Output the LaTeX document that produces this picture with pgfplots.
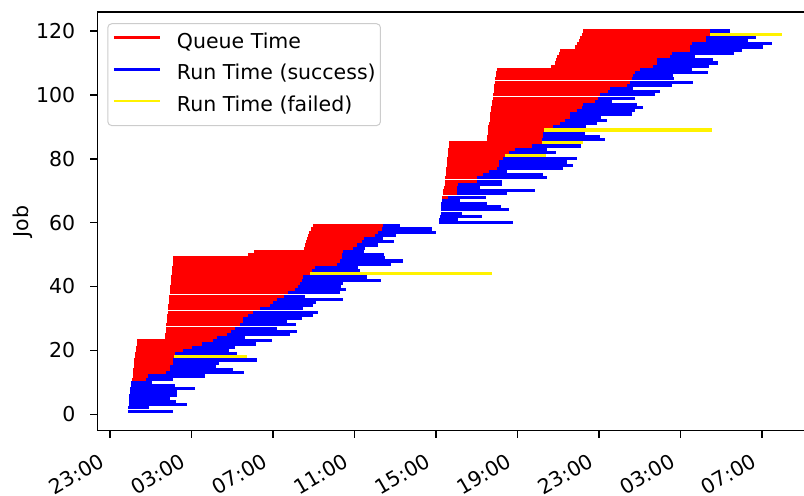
\documentclass[border=0pt]{standalone}
\usepackage{fontspec}
\setmainfont{DejaVu Sans}
\usepackage{pgfplots}
\usepackage{pgfplotstable}
\pgfplotsset{compat=1.18}
\newcommand{\mplfont}{\fontsize{10.25}{12.3}\selectfont}

% j = job, s = submit, t = start, e = end (hours after 23:00 of day 1), f = failed
\pgfplotstableread{
j s t e f
1 0.88 0.88 3.11 0
2 0.90 0.90 1.91 0
3 0.93 0.93 3.76 0
4 0.93 0.93 3.24 0
5 0.95 0.95 2.94 0
6 0.95 0.95 3.30 0
7 0.98 0.98 3.30 0
8 1.00 1.00 4.19 0
9 1.02 1.02 3.20 0
10 1.03 1.03 2.05 0
11 1.08 1.77 3.11 0
12 1.11 1.85 4.66 0
13 1.14 2.75 6.58 0
14 1.14 2.94 6.02 0
15 1.16 2.94 5.20 0
16 1.18 3.08 5.36 0
17 1.19 3.11 7.21 0
18 1.21 3.14 6.72 1
19 1.23 3.19 6.22 0
20 1.26 3.60 5.85 0
21 1.28 4.01 6.15 0
22 1.31 4.50 7.16 0
23 1.34 5.04 7.94 0
24 2.70 5.24 6.64 0
25 2.71 5.73 8.83 0
26 2.73 5.92 9.16 0
27 2.75 6.13 8.18 0
28 2.76 6.38 9.13 0
29 2.78 6.51 8.67 0
30 2.80 6.54 9.41 0
31 2.81 6.79 9.98 0
32 2.83 7.03 10.22 0
33 2.85 7.36 9.49 0
34 2.86 7.85 9.98 0
35 2.88 8.01 10.11 0
36 2.90 8.18 11.45 0
37 2.91 8.54 9.57 0
38 2.93 8.75 11.29 0
39 2.94 9.08 11.57 0
40 2.96 9.21 11.34 0
41 2.97 9.32 11.45 0
42 2.99 9.41 13.28 0
43 3.01 9.49 12.60 0
44 3.02 9.81 18.73 1
45 3.04 9.90 12.27 0
46 3.06 10.06 12.18 0
47 3.07 11.12 13.77 0
48 3.09 11.29 14.39 0
49 3.11 11.37 13.49 0
50 6.79 11.37 13.45 0
51 7.07 11.45 12.46 0
52 9.53 11.94 12.51 0
53 9.57 12.11 13.14 0
54 9.60 12.35 13.95 0
55 9.65 12.46 13.41 0
56 9.73 13.00 14.02 0
57 9.77 13.17 15.98 0
58 9.85 13.35 15.79 0
59 9.98 13.40 14.23 0
60 16.16 16.16 19.76 0
61 16.16 16.16 17.09 0
62 16.19 16.19 18.24 0
63 16.23 16.23 17.26 0
64 16.23 16.23 19.59 0
65 16.24 16.24 19.19 0
66 16.26 16.26 18.49 0
67 16.28 16.28 17.18 0
68 16.29 16.59 18.45 0
69 16.33 17.01 19.47 0
70 16.36 17.04 20.86 0
71 16.39 17.04 18.16 0
72 16.42 17.09 19.22 0
73 16.44 18.02 19.22 0
74 16.45 18.02 21.46 0
75 16.47 18.32 21.26 0
76 16.49 18.60 19.50 0
77 16.50 19.01 22.24 0
78 16.52 19.09 22.71 0
79 16.54 19.09 22.41 0
80 16.55 19.27 22.90 0
81 16.57 19.38 21.40 1
82 16.59 19.59 21.89 0
83 16.60 19.87 21.43 0
84 16.65 20.69 23.10 0
85 16.65 21.18 23.23 1
86 18.49 21.20 24.29 0
87 18.51 21.25 24.04 0
88 18.53 21.26 23.31 0
89 18.55 21.30 29.54 1
90 18.57 21.74 23.36 0
91 18.60 22.08 23.90 0
92 18.62 22.33 24.39 0
93 18.64 22.57 24.09 0
94 18.66 22.57 25.60 0
95 18.69 22.90 25.76 0
96 18.71 23.15 26.14 0
97 18.73 23.23 25.85 0
98 18.75 23.80 24.62 0
99 18.77 23.96 25.76 0
100 18.79 24.04 26.74 0
101 18.82 24.45 26.99 0
102 18.84 24.54 25.68 0
103 18.86 25.36 27.56 0
104 18.88 25.52 28.62 0
105 18.91 25.60 27.69 0
106 18.93 25.68 27.64 0
107 18.95 25.76 29.36 0
108 18.98 26.01 28.57 0
109 21.63 26.66 29.39 0
110 21.84 26.83 29.85 0
111 21.87 26.83 29.60 0
112 21.92 27.48 28.71 0
113 22.05 27.56 30.62 0
114 22.08 28.46 31.03 0
115 22.82 28.46 32.03 0
116 22.90 28.54 32.47 0
117 23.03 29.23 31.32 0
118 23.06 29.23 31.70 0
119 23.15 29.44 32.96 1
120 23.20 29.44 30.42 0
}\jobs

\begin{document}
\begin{tikzpicture}
\begin{axis}[
  at={(0,0)}, anchor=south west,
  scale only axis, width=358.85pt, height=209.35pt,
  xmin=-0.623, xmax=34.59, ymin=-5.13, ymax=125.95,
  xtick={0,4,8,12,16,20,24,28,32},
  xticklabels={23:00,03:00,07:00,11:00,15:00,19:00,23:00,03:00,07:00},
  ytick={0,20,40,60,80,100,120},
  tick pos=left, tick align=outside, major tick length=3.6pt,
  every tick/.style={black, line width=0.8pt},
  axis line style={black, line width=0.75pt},
  /pgf/number format/assume math mode=true,
  tick label style={font=\mplfont},
  xticklabel style={anchor=base east, inner sep=0pt, xshift=-2pt, yshift=-13.9pt, rotate=30},
  yticklabel style={anchor=east, inner sep=0pt, xshift=-7.2pt},
  ylabel={Job},
  every axis y label/.style={at={(axis description cs:0,0.5)}, xshift=-34.5pt, rotate=90, anchor=base, font=\mplfont},
  legend style={at={(0,1)}, anchor=north west, xshift=5pt, yshift=-5.6pt,
    draw=black!20, fill=white, line width=0.5pt, rounded corners=2pt,
    inner xsep=2.4pt, inner ysep=4.4pt, row sep=5.7pt, column sep=8pt,
    font=\mplfont, nodes={inner sep=0pt, text height=7.8pt, text depth=2.45pt}},
  legend cell align=left,
  legend image code/.code={\draw[#1] (0pt,2.67pt) -- (23pt,2.67pt);},
]
\addlegendimage{red, line width=1.2pt}
\addlegendentry{Queue Time}
\addlegendimage{blue, line width=1.2pt}
\addlegendentry{Run Time (success)}
\addlegendimage{yellow, line width=1.2pt}
\addlegendentry{Run Time (failed)}

\addplot[draw=none, mark=none, forget plot,
  error bars/.cd, x dir=minus, x explicit, error mark=none,
  error bar style={draw=red, line width=1.56pt}]
  table[x=t, y=j, x error expr={\thisrow{t}-\thisrow{s}}] {\jobs};
\addplot[draw=none, mark=none, forget plot,
  restrict expr to domain={\thisrow{f}}{0:0},
  error bars/.cd, x dir=plus, x explicit, error mark=none,
  error bar style={draw=blue, line width=1.56pt}]
  table[x=t, y=j, x error expr={\thisrow{e}-\thisrow{t}}] {\jobs};
\addplot[draw=none, mark=none, forget plot,
  restrict expr to domain={\thisrow{f}}{1:1},
  error bars/.cd, x dir=plus, x explicit, error mark=none,
  error bar style={draw=yellow, line width=1.56pt}]
  table[x=t, y=j, x error expr={\thisrow{e}-\thisrow{t}}] {\jobs};
\end{axis}
\pgfresetboundingbox
\useasboundingbox (-48.65pt,-32.65pt) rectangle (353.35pt,215.35pt);
\end{tikzpicture}
\end{document}
